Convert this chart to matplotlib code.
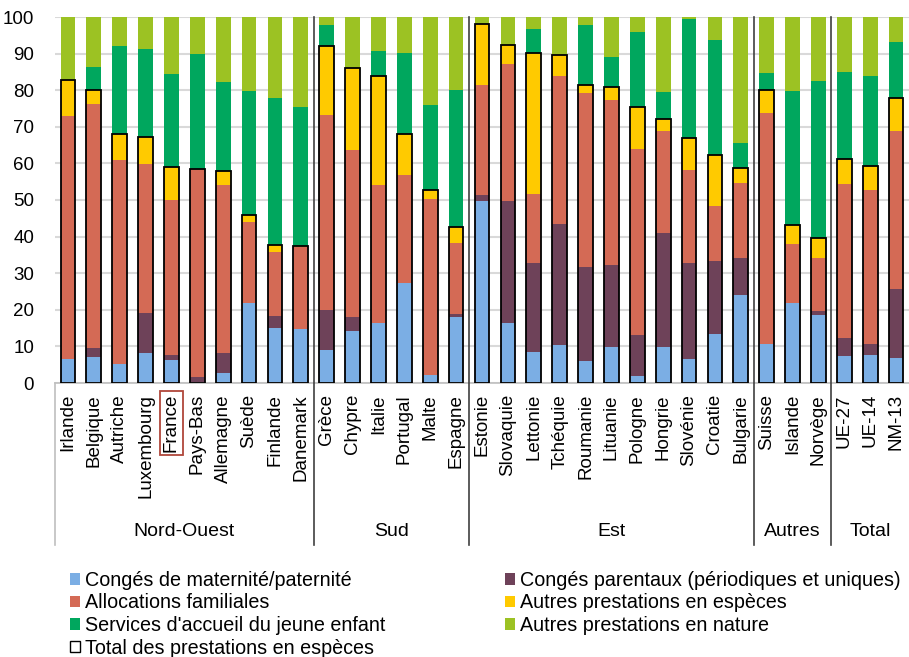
import matplotlib
matplotlib.use('Agg')
import matplotlib.pyplot as plt
import matplotlib.patches as patches
from matplotlib.lines import Line2D
import numpy as np

pays = ['Irlande', 'Belgique', 'Autriche', 'Luxembourg', 'France', 'Pays-Bas',
        'Allemagne', 'Suède', 'Finlande', 'Danemark',
        'Grèce', 'Chypre', 'Italie', 'Portugal', 'Malte', 'Espagne',
        'Estonie', 'Slovaquie', 'Lettonie', 'Tchéquie', 'Roumanie', 'Lituanie',
        'Pologne', 'Hongrie', 'Slovénie', 'Croatie', 'Bulgarie',
        'Suisse', 'Islande', 'Norvège',
        'UE-27', 'UE-14', 'NM-13']
groupes = ['Nord-Ouest', 'Sud', 'Est', 'Autres', 'Total']
taille_groupes = [10, 6, 11, 3, 3]

maternite = [6.5, 7.0, 5.3, 8.2, 6.4, 0.0, 2.6, 21.9, 14.9, 14.8,
             9.1, 14.1, 16.4, 27.3, 2.1, 18.0,
             49.7, 16.4, 8.5, 10.5, 6.0, 9.7, 1.8, 9.7, 6.5, 13.5, 24.0,
             10.7, 21.9, 18.6,
             7.5, 7.6, 6.8]
parentaux = [0.0, 2.6, 0.0, 10.9, 1.3, 1.6, 5.7, 0.0, 3.5, 0.0,
             10.9, 3.9, 0.0, 0.0, 0.0, 0.8,
             1.6, 33.2, 24.4, 33.0, 25.7, 22.6, 11.4, 31.4, 26.4, 19.9, 10.2,
             0.0, 0.0, 1.1,
             4.9, 3.1, 18.9]
allocations = [66.4, 66.5, 55.5, 40.6, 42.4, 57.0, 45.9, 22.1, 17.3, 22.4,
               53.2, 45.6, 37.7, 29.4, 48.3, 19.5,
               30.2, 37.6, 18.8, 40.5, 47.4, 45.1, 50.6, 27.8, 25.2, 15.0, 20.4,
               63.2, 16.1, 14.5,
               42.0, 41.9, 43.2]
autres_especes = [9.8, 4.0, 7.1, 7.6, 8.9, 0.0, 3.7, 1.8, 1.9, 0.3,
                  18.8, 22.4, 29.9, 11.3, 2.2, 4.3,
                  16.7, 5.2, 38.5, 5.7, 2.4, 3.5, 11.6, 3.3, 8.9, 14.0, 4.2,
                  6.1, 5.2, 5.5,
                  6.9, 6.7, 9.1]
services = [0.0, 6.2, 24.1, 24.0, 25.4, 31.4, 24.3, 34.0, 40.3, 37.9,
            5.7, 0.0, 6.7, 22.2, 23.4, 37.4,
            0.0, 0.0, 6.5, 0.0, 16.4, 8.2, 20.5, 7.3, 32.5, 31.2, 6.9,
            4.6, 36.6, 42.7,
            23.6, 24.6, 15.1]
autres_nature = [17.3, 13.7, 8.0, 8.7, 15.6, 10.0, 17.8, 20.2, 22.1, 24.6,
                 2.3, 14.0, 9.3, 9.8, 24.0, 20.0,
                 1.8, 7.6, 3.3, 10.3, 2.1, 10.9, 4.1, 20.5, 0.5, 6.4, 34.3,
                 15.4, 20.2, 17.6,
                 15.1, 16.1, 6.9]

series = [maternite, parentaux, allocations, autres_especes, services, autres_nature]
noms = ['Congés de maternité/paternité', 'Congés parentaux (périodiques et uniques)',
        'Allocations familiales', 'Autres prestations en espèces',
        "Services d'accueil du jeune enfant", 'Autres prestations en nature']
couleurs = ['#7BAEE4', '#6E4259', '#D46A55', '#FFCA00', '#00A75E', '#9CC223']

police = ['Liberation Sans', 'DejaVu Sans']
police_etroite = ['Liberation Sans Narrow', 'Liberation Sans', 'DejaVu Sans']

fig = plt.figure(figsize=(9.09, 6.57), dpi=100)
ax = fig.add_axes([55/909, (657-383)/657, 854/909, 366/657])

x = np.arange(len(pays))
larg = 0.57
bas = np.zeros(len(pays))
barres = []
for vals, nom, c in zip(series, noms, couleurs):
    b = ax.bar(x, vals, larg, bottom=bas, color=c, label=nom, zorder=2)
    barres.append(b)
    bas += np.array(vals)

# contour noir : total des prestations en especes
total_especes = np.array(maternite) + np.array(parentaux) + np.array(allocations) + np.array(autres_especes)
ax.bar(x, total_especes, larg, facecolor='none', edgecolor='black', linewidth=1.3, zorder=3)

ax.set_xlim(-0.5, len(pays) - 0.5)
ax.set_ylim(0, 100)
ax.set_yticks(range(0, 101, 10))
ax.yaxis.grid(True, color='#D9D9D9', linewidth=1.5, zorder=0)
ax.set_axisbelow(True)
for s in ['top', 'right', 'left']:
    ax.spines[s].set_visible(False)
ax.spines['bottom'].set_color('#BFBFBF')
ax.spines['bottom'].set_linewidth(1.2)
ax.tick_params(axis='both', length=0, labelsize=13.5)
ax.tick_params(axis='y', pad=15)
for t in ax.get_yticklabels():
    t.set_family(police)

ax.set_xticks(x)
ax.set_xticklabels(pays, rotation=90, fontsize=13.5, family=police)
ax.tick_params(axis='x', pad=8)
lab_fr = ax.get_xticklabels()[pays.index('France')]
lab_fr.set_bbox(dict(boxstyle='square,pad=0.15', facecolor='none', edgecolor='#B0473A', linewidth=1.3))

# separateurs de groupes
bas_sep = -(545 - 383) / 366
trans = ax.get_xaxis_transform()
ax.add_line(Line2D([-0.5, -0.5], [0, bas_sep], transform=trans, color='#BFBFBF', lw=1.2, clip_on=False))
pos = -0.5
for g, n in zip(groupes, taille_groupes):
    ax.text(pos + n / 2, -(532 - 383) / 366, g, transform=trans, ha='center', va='center',
            fontsize=14, family=police_etroite)
    pos += n
    if pos < len(pays) - 0.5:
        ax.add_line(Line2D([pos, pos], [1, bas_sep], transform=trans, color='#404040', lw=1.2,
                           clip_on=False, zorder=4))

handles = [barres[0], barres[2], barres[4],
           patches.Patch(facecolor='white', edgecolor='black', linewidth=1.0),
           barres[1], barres[3], barres[5]]
labels = [noms[0], noms[2], noms[4], 'Total des prestations en espèces',
          noms[1], noms[3], noms[5]]
fig.legend(handles, labels, ncol=2, loc='upper left', bbox_to_anchor=(62/909, 1 - 563/657),
           frameon=False, handlelength=0.5, handleheight=0.5, handletextpad=0.25,
           columnspacing=6.1, labelspacing=0.18, borderaxespad=0,
           prop={'family': police, 'size': 14.2})

fig.savefig('out.png', dpi=100)
